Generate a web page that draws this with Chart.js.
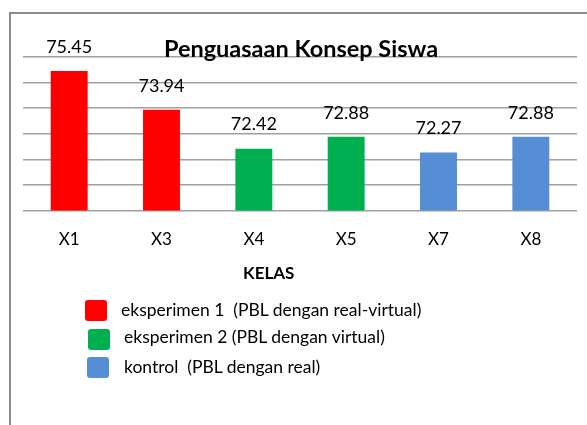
<!DOCTYPE html>
<html lang="id">
<head>
<meta charset="utf-8">
<title>Penguasaan Konsep Siswa</title>
<script src="https://cdn.jsdelivr.net/npm/chart.js@4.4.1/dist/chart.umd.min.js"></script>
<style>
  html, body { margin: 0; padding: 0; background: #fff; }
  body { font-family: Lato, "Open Sans", sans-serif; color: #000; }
  #wrap { position: relative; width: 587px; height: 425px; overflow: hidden; }
  #frame {
    position: absolute; left: 9px; top: 12px; width: 640px; height: 480px;
    border: 2px solid #8c8c8c; box-sizing: border-box;
  }
  #chart { position: absolute; left: 0; top: 0; }
  #axis-title {
    position: absolute; left: 243px; top: 262px;
    font-weight: bold; font-size: 17px;
  }
  .legend { position: absolute; left: 0; top: 0; font-size: 17.5px; }
  .legend .item { position: absolute; white-space: pre; height: 22px; line-height: 22px; }
  .legend .box { position: absolute; width: 22px; height: 21px; border-radius: 3px; }
  .legend .txt { position: absolute; top: 0; }
</style>
</head>
<body>
<div id="wrap">
  <div id="frame"></div>
  <canvas id="chart" width="587" height="425"></canvas>
  <div id="axis-title">KELAS</div>
  <div class="legend" id="legend"></div>
</div>
<script>
const chartTitle = 'Penguasaan Konsep Siswa';
const kelas = ['X1', 'X3', 'X4', 'X5', 'X7', 'X8'];
const nilai = [75.45, 73.94, 72.42, 72.88, 72.27, 72.88];
const kelompok = [0, 0, 1, 1, 2, 2];

const groupNames = [
  'eksperimen 1  (PBL dengan real-virtual)',
  'eksperimen 2 (PBL dengan virtual)',
  'kontrol  (PBL dengan real)'
];
const groupColors = ['#ff0000', '#00b050', '#558ed5'];

const yMin = 70;
const yMax = 76;
const yStep = 1;

function buildLegend() {
  const el = document.getElementById('legend');
  const spots = [
    { box: [85, 300], txt: [121, 299] },
    { box: [88, 329], txt: [124, 326] },
    { box: [87, 357], txt: [124, 356] }
  ];
  groupNames.forEach((name, i) => {
    const item = document.createElement('div');
    item.className = 'item';
    item.innerHTML = `
      <div class="box" style="left:${spots[i].box[0]}px;top:${spots[i].box[1]}px;background:${groupColors[i]}"></div>
      <div class="txt" style="left:${spots[i].txt[0]}px;top:${spots[i].txt[1]}px">${name}</div>
    `;
    el.appendChild(item);
  });
}

const valueLabels = {
  id: 'valueLabels',
  afterDatasetsDraw(chart) {
    const { ctx } = chart;
    const meta = chart.getDatasetMeta(0);
    ctx.save();
    ctx.fillStyle = '#000';
    ctx.textAlign = 'center';
    ctx.textBaseline = 'middle';
    ctx.font = '18px Lato, "Open Sans", sans-serif';
    meta.data.forEach((bar, i) => {
      ctx.fillText(nilai[i].toFixed(2), bar.x, bar.y - 24);
    });
    // judul digambar di dalam area plot, seperti aslinya
    ctx.font = 'bold 23.5px Lato, "Open Sans", sans-serif';
    ctx.fillText(chartTitle, 301, 49);
    ctx.restore();
  }
};

function init() {
  buildLegend();
  const ctx = document.getElementById('chart').getContext('2d');
  new Chart(ctx, {
    type: 'bar',
    data: {
      labels: kelas,
      datasets: [{
        label: chartTitle,
        data: nilai,
        backgroundColor: kelompok.map(g => groupColors[g]),
        barPercentage: 0.4,
        categoryPercentage: 1
      }]
    },
    options: {
      responsive: false,
      animation: false,
      layout: { padding: { left: 23, right: 10, top: 57, bottom: 156 } },
      plugins: {
        legend: { display: false },
        title: { display: false },
        tooltip: { enabled: false }
      },
      scales: {
        x: {
          grid: { display: false, drawTicks: false },
          border: { display: false },
          ticks: {
            padding: 19,
            color: '#000',
            font: { family: 'Lato, "Open Sans", sans-serif', size: 17 }
          }
        },
        y: {
          min: yMin,
          max: yMax,
          afterFit(scale) { scale.width = 0; },
          ticks: { display: false, stepSize: yStep },
          grid: { color: '#a0a0a0', lineWidth: 1.6, drawTicks: false },
          border: { display: false }
        }
      }
    },
    plugins: [valueLabels]
  });
}
document.addEventListener('DOMContentLoaded', init);
</script>
</body>
</html>
